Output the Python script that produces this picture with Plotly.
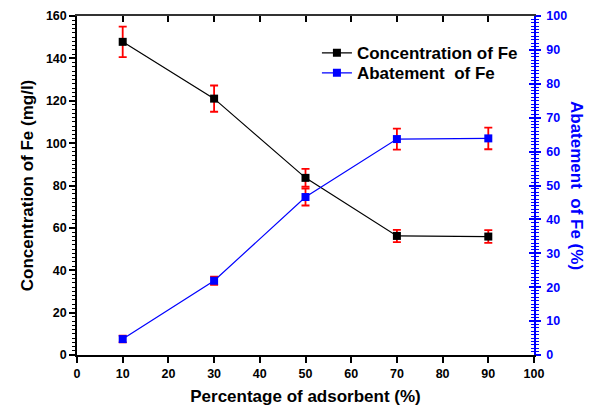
import plotly.graph_objects as go

adsorbent = [10, 30, 50, 70, 90]
concentration = [147.8, 121.0, 83.6, 56.2, 55.9]
concentration_err = [7.2, 6.2, 4.2, 2.9, 3.0]
abatement = [4.7, 21.9, 46.6, 63.7, 63.9]
abatement_err = [1.0, 1.2, 2.5, 3.1, 3.2]

x_ticks = list(range(0, 101, 10))
left_ticks = list(range(0, 161, 20))
right_ticks = list(range(0, 101, 10))

FONT = "Arial"
BLUE = "#0000ff"

fig = go.Figure()
fig.add_trace(go.Scatter(
    x=adsorbent, y=concentration, name="<b>Concentration of Fe</b>",
    mode="lines+markers",
    line=dict(color="black", width=1.2),
    marker=dict(symbol="square", size=8, color="black"),
    error_y=dict(type="data", array=concentration_err, color="red", thickness=1.8, width=4),
    yaxis="y", legend="legend",
))
fig.add_trace(go.Scatter(
    x=adsorbent, y=abatement, name="<b>Abatement\u00a0 of Fe</b>",
    mode="lines+markers",
    line=dict(color=BLUE, width=1.2),
    marker=dict(symbol="square", size=8, color=BLUE),
    error_y=dict(type="data", array=abatement_err, color="red", thickness=1.8, width=4),
    yaxis="y2", legend="legend2",
))
fig.add_trace(go.Scatter(x=[None], y=[None], xaxis="x2", yaxis="y3",
                         showlegend=False, hoverinfo="skip"))

tickfont = dict(family=FONT, size=12.5, color="black")
legfont = dict(family=FONT, size=17, color="black")
titlefont = dict(family=FONT, size=17, color="black")

# page body has an 8px default margin: shrink figure to fit the window
fig.update_layout(
    width=586, height=404,
    margin=dict(l=69, r=60, t=8, b=57, autoexpand=False),
    paper_bgcolor="white", plot_bgcolor="white",
    font=dict(family=FONT),
    showlegend=True,
    legend=dict(
        x=0.525, y=0.89, xanchor="left", yanchor="middle",
        bgcolor="rgba(0,0,0,0)", borderwidth=0, font=legfont, itemwidth=30,
    ),
    legend2=dict(
        x=0.525, y=0.831, xanchor="left", yanchor="middle",
        bgcolor="rgba(0,0,0,0)", borderwidth=0, font=legfont, itemwidth=30,
    ),
    xaxis=dict(
        range=[0, 100], automargin=False,
        tickvals=x_ticks, ticktext=[f"<b>{v}</b>" for v in x_ticks],
        showgrid=False, zeroline=False,
        showline=True, linecolor="black", linewidth=1.5,
        ticks="outside", ticklen=6, tickwidth=1.5, tickcolor="black",
        tickfont=tickfont, ticklabeloverflow="allow",
        title=dict(text="<b>Percentage of adsorbent (%)</b>", standoff=10, font=titlefont),
    ),
    xaxis2=dict(
        range=[0, 100], tickvals=x_ticks, overlaying="x", side="top", automargin=False,
        showgrid=False, zeroline=False, showticklabels=False,
        showline=True, linecolor="#333333", linewidth=2,
        ticks="inside", ticklen=6, tickwidth=1.5, tickcolor="black",
    ),
    yaxis=dict(
        range=[0, 160], automargin=False,
        tickvals=left_ticks, ticktext=[f"<b>{v}</b>" for v in left_ticks],
        showgrid=False, zeroline=False,
        showline=True, linecolor="black", linewidth=1.5,
        ticks="outside", ticklen=6, tickwidth=1.5, tickcolor="black",
        minor=dict(dtick=2, tick0=0, ticks="outside", ticklen=3, tickcolor="black", tickwidth=1),
        tickfont=tickfont, ticklabeloverflow="allow",
        title=dict(text="<b>Concentration of Fe (mg/l)</b>", standoff=8, font=titlefont),
    ),
    yaxis2=dict(
        range=[0, 100], overlaying="y", side="right", automargin=False,
        tickvals=right_ticks, ticktext=[f"<b>{v}</b>" for v in right_ticks],
        showgrid=False, zeroline=False,
        showline=True, linecolor=BLUE, linewidth=1.5,
        ticks="outside", ticklen=5, tickwidth=1.5, tickcolor=BLUE,
        minor=dict(dtick=1, tick0=0, ticks="outside", ticklen=3, tickcolor=BLUE, tickwidth=1),
        tickfont=dict(family=FONT, size=12.5, color=BLUE), ticklabeloverflow="allow",
        ticklabelstandoff=3,
    ),
    yaxis3=dict(
        range=[0, 100], overlaying="y", side="right", automargin=False,
        tickvals=right_ticks,
        showgrid=False, zeroline=False, showticklabels=False,
        showline=False,
        ticks="inside", ticklen=5, tickwidth=1.5, tickcolor=BLUE,
        minor=dict(dtick=1, tick0=0, ticks="inside", ticklen=3, tickcolor=BLUE, tickwidth=1),
    ),
)

fig.add_annotation(
    text="<b>Abatement\u00a0 of Fe (%)</b>", textangle=90,
    xref="paper", yref="paper", x=1.093, y=0.5,
    xanchor="center", yanchor="middle", showarrow=False,
    font=dict(family=FONT, size=17, color=BLUE),
)

fig.write_html("out.html")
